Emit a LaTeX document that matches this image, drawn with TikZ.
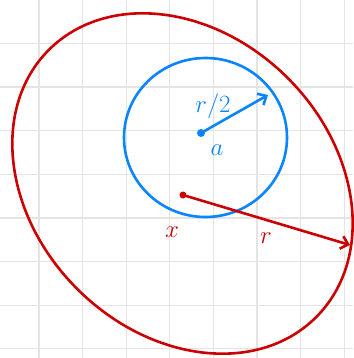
\documentclass[tikz,border=0pt]{standalone}
\usepackage{amsmath, amssymb}
\usepackage{tikz}
\usetikzlibrary{arrows.meta, positioning, calc}

\definecolor{inkred}{RGB}{204,0,0}
\definecolor{inkblue}{RGB}{10,132,255}
\definecolor{gridgray}{RGB}{228,228,228}

\begin{document}
\begin{tikzpicture}[
    x=1pt, y=-1pt,
    grid_line/.style={gridgray, line width=1.2pt},
    ink_red/.style={inkred, line width=2.6pt},
    ink_blue/.style={inkblue, line width=2.6pt},
    node_dot/.style={circle, fill, inner sep=0pt, minimum size=8pt},
    node_lbl/.style={inner sep=1pt, font=\fontsize{26}{30}\selectfont},
    edge_path/.style={-{Straight Barb[length=7pt, width=13pt]}, line cap=round}
  ]
    \useasboundingbox (0,0) rectangle (353,358);

    % squared paper
    \foreach \k in {0,...,7} {
      \draw[grid_line] ({39+43.6*\k},0) -- ({39+43.6*\k},358);
      \draw[grid_line] (0,{43.5+43.6*\k}) -- (353,{43.5+43.6*\k});
    }

    % the two balls
    \draw[ink_red] (182.5,183.5) ellipse [x radius=189, y radius=149, rotate=-45];
    \draw[ink_blue] (205.5,137.5) ellipse [x radius=81.5, y radius=79.5];

    \node[node_dot, inkblue] (a) at (201,133) {};
    \coordinate (a_end) at (268,95);
    \node[node_lbl, inkblue] (a_lbl) at (217,150) {$a$};
    \node[node_lbl, inkblue] (rhalf_lbl) at (213,106) {$r/2$};

    \node[node_dot, inkred, minimum size=7pt] (x) at (183,195) {};
    \coordinate (x_end) at (350,245);
    \node[node_lbl, inkred] (x_lbl) at (172,232) {$x$};
    \node[node_lbl, inkred] (r_lbl) at (266,238) {$r$};

    \draw[ink_blue, edge_path] (a) to (a_end);
    \draw[ink_red, edge_path] (x) to (x_end);
  \end{tikzpicture}
\end{document}
